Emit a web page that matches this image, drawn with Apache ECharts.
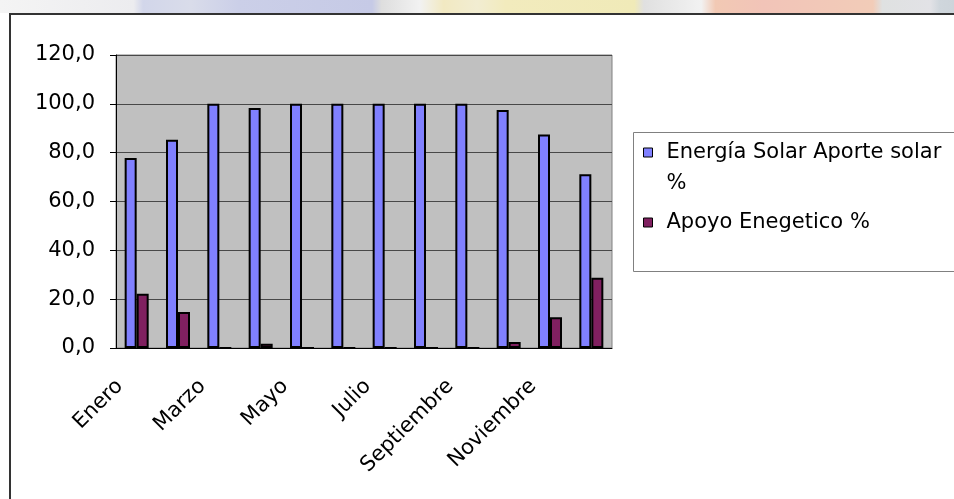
<!DOCTYPE html>
<html>
<head>
<meta charset="utf-8">
<title>Aporte solar</title>
<script src="https://cdn.jsdelivr.net/npm/echarts@6/dist/echarts.min.js"></script>
<style>
  html, body { margin: 0; padding: 0; background: #fff; }
  #echart { width: 954px; height: 499px; }
</style>
</head>
<body>
<div id="echart"></div>
<script>
// datos
var meses = ['Enero', 'Febrero', 'Marzo', 'Abril', 'Mayo', 'Junio', 'Julio', 'Agosto', 'Septiembre', 'Octubre', 'Noviembre', 'Diciembre'];
var aporteSolar = [77.8, 85.3, 100, 98.3, 100, 100, 100, 100, 100, 97.5, 87.4, 71.2];
var apoyoEnergetico = [22.2, 14.7, 0, 1.7, 0, 0, 0, 0, 0, 2.5, 12.6, 28.8];
var nombresSeries = ['Energía Solar Aporte solar %', 'Apoyo Enegetico %'];
var ejeY = { min: 0, max: 120, interval: 20 };

var fuente = 'DejaVu Sans';
var tamTexto = 21;

var echart = echarts.init(document.getElementById('echart'));

var option = {
  animation: false,
  backgroundColor: '#ffffff',
  textStyle: { fontFamily: fuente },
  color: ['#8080ff', '#802060'],
  graphic: [
    // franja de fondo difuminada arriba
    {
      type: 'rect',
      z: -10,
      shape: { x: 0, y: 0, width: 954, height: 13 },
      style: {
        fill: new echarts.graphic.LinearGradient(0, 0, 1, 0, [
          { offset: 0, color: '#f4f4f4' },
          { offset: 0.14, color: '#ececef' },
          { offset: 0.15, color: '#d2d6ea' },
          { offset: 0.2, color: '#d9dcea' },
          { offset: 0.25, color: '#cbcfe8' },
          { offset: 0.39, color: '#c6cae6' },
          { offset: 0.4, color: '#dedede' },
          { offset: 0.44, color: '#f2f2f2' },
          { offset: 0.465, color: '#f2e9c2' },
          { offset: 0.5, color: '#f2edd2' },
          { offset: 0.53, color: '#f2ebbd' },
          { offset: 0.665, color: '#f0eab8' },
          { offset: 0.675, color: '#e0e0e0' },
          { offset: 0.735, color: '#f2f2f2' },
          { offset: 0.75, color: '#f2c9b4' },
          { offset: 0.8, color: '#f2c4b8' },
          { offset: 0.915, color: '#f2ccb8' },
          { offset: 0.925, color: '#dfe1e1' },
          { offset: 0.975, color: '#e2e2e6' },
          { offset: 0.985, color: '#cfd6dc' },
          { offset: 1, color: '#cdd4da' }
        ])
      }
    },
    // marco del grafico
    {
      type: 'polyline',
      z: 10,
      shape: { points: [[10, 499], [10, 14], [954, 14]] },
      style: { stroke: '#333333', lineWidth: 2, fill: null }
    },
    // caja de la leyenda
    {
      type: 'rect',
      z: -1,
      shape: { x: 633.5, y: 132.5, width: 400, height: 139 },
      style: { fill: '#ffffff', stroke: '#808080', lineWidth: 1 }
    }
  ],
  grid: {
    show: true,
    left: 116,
    top: 55,
    width: 496,
    height: 293,
    backgroundColor: '#c0c0c0',
    borderColor: '#808080',
    borderWidth: 1
  },
  legend: {
    orient: 'vertical',
    left: 643,
    top: 106,
    padding: 0,
    itemGap: 8,
    itemWidth: 9,
    itemHeight: 9,
    icon: 'rect',
    data: nombresSeries,
    itemStyle: { borderColor: '#000', borderWidth: 1 },
    formatter: function (name) {
      if (name === nombresSeries[0]) {
        // linea en blanco arriba para que el icono quede en la primera linea
        return ' \nEnergía Solar Aporte solar\n%';
      }
      return name;
    },
    textStyle: {
      fontFamily: fuente,
      fontSize: tamTexto,
      color: '#000',
      lineHeight: 31,
      padding: [0, 0, 0, 9]
    }
  },
  xAxis: {
    type: 'category',
    data: meses,
    boundaryGap: true,
    axisLine: { lineStyle: { color: '#000', width: 1 } },
    axisTick: { interval: 0, length: 6, lineStyle: { color: '#000' } },
    axisLabel: {
      interval: 1,
      rotate: 45,
      margin: 18,
      padding: [0, 24, 0, 0],
      color: '#000',
      fontSize: tamTexto,
      fontFamily: fuente
    },
    splitLine: { show: false }
  },
  yAxis: {
    type: 'value',
    min: ejeY.min,
    max: ejeY.max,
    interval: ejeY.interval,
    axisLine: { show: true, lineStyle: { color: '#000', width: 1 } },
    axisTick: { show: true, length: 6, lineStyle: { color: '#000' } },
    axisLabel: {
      margin: 21,
      color: '#000',
      fontSize: tamTexto,
      fontFamily: fuente,
      formatter: function (v) {
        return v.toFixed(1).replace('.', ',');
      }
    },
    splitLine: { show: true, lineStyle: { color: '#484848', width: 1 } }
  },
  series: [
    {
      name: nombresSeries[0],
      type: 'bar',
      data: aporteSolar,
      barWidth: 12,
      barGap: '0%',
      itemStyle: { color: '#8080ff', borderColor: '#000', borderWidth: 2 }
    },
    {
      name: nombresSeries[1],
      type: 'bar',
      data: apoyoEnergetico,
      barWidth: 12,
      barGap: '0%',
      itemStyle: { color: '#802060', borderColor: '#000', borderWidth: 2 }
    }
  ]
};

echart.setOption(option);

window.addEventListener('resize', function () {
  echart.resize();
});
</script>
</body>
</html>
